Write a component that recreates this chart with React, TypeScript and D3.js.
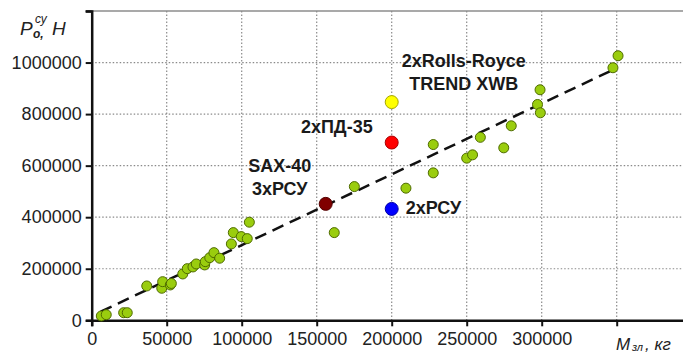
import React, { useEffect, useRef } from 'react';
import * as d3 from 'd3';

// aircraft: take-off mass (kg) vs total take-off thrust (N)
const MASS = [
  6400, 9700, 21300, 23700, 36700, 46700, 47300, 52400, 53100, 60700, 63700, 67500, 69700,
  75300, 75700, 78700, 81500, 85300, 93100, 94400, 99700, 103700, 105100, 161700, 175100,
  209500, 227700, 227700, 250000, 253900, 259100, 274700, 279700, 298900, 297200, 299100,
  347500, 350900,
];
const THRUST = [
  16700, 21800, 29500, 29500, 133200, 124300, 149900, 137100, 142900, 179800, 200400, 207000,
  218600, 214800, 227600, 243100, 262500, 240800, 296300, 340200, 324700, 316900, 380600,
  340200, 518800, 512600, 681900, 572000, 629100, 641900, 709900, 669100, 754600, 894400,
  837300, 805000, 979800, 1026400,
];

const SPECIAL_NAMES = ['SAX-40|3xРСУ', '2xПД-35', '2xRolls-Royce|TREND XWB', '2xРСУ'];
const SPECIAL_MASS = [156000, 200000, 200000, 200000];
const SPECIAL_THRUST = [451700, 689700, 846600, 432200];
const SPECIAL_COLORS = ['#800000', '#ff0000', '#ffff00', '#0000ff'];

const TREND_MASS = [6000, 350000];
const TREND_THRUST = [33400, 978600];

const X_TICKS = [0, 50000, 100000, 150000, 200000, 250000, 300000];
const X_GRID = [50000, 100000, 150000, 200000, 250000, 300000, 350000];
const Y_TICKS = [0, 200000, 400000, 600000, 800000, 1000000];

const W = 683;
const H = 354;

const App = () => {
  const ref = useRef<SVGSVGElement>(null);

  useEffect(() => {
    const svg = d3.select(ref.current);
    svg.selectAll('*').remove();

    const x = d3.scaleLinear().domain([0, 400000]).range([91.7, 691.7]);
    const y = d3.scaleLinear().domain([0, 1200000]).range([320.3, 11]);
    const font = '"Liberation Sans", Arial, sans-serif';

    // grid
    const grid = svg.append('g');
    grid
      .selectAll('.vg')
      .data(X_GRID)
      .enter()
      .append('line')
      .attr('x1', d => x(d))
      .attr('x2', d => x(d))
      .attr('y1', y(1200000))
      .attr('y2', y(0))
      .attr('stroke', '#8a8a8a')
      .attr('stroke-width', 1.2)
      .attr('stroke-dasharray', '1.5,2');
    grid
      .selectAll('.hg')
      .data(Y_TICKS.filter(d => d > 0))
      .enter()
      .append('line')
      .attr('x1', x(0))
      .attr('x2', W)
      .attr('y1', d => y(d))
      .attr('y2', d => y(d))
      .attr('stroke', '#8a8a8a')
      .attr('stroke-width', 1.2)
      .attr('stroke-dasharray', '1.5,2');
    // top frame line
    svg
      .append('line')
      .attr('x1', x(0) - 6)
      .attr('x2', W)
      .attr('y1', y(1200000))
      .attr('y2', y(1200000))
      .attr('stroke', '#8c8c8c')
      .attr('stroke-width', 1.5);

    // axes
    const yAxis = d3
      .axisLeft(y)
      .tickValues([...Y_TICKS, 1200000])
      .tickSize(6)
      .tickFormat(d => (+d <= 1000000 ? String(d) : ''));
    const gy = svg.append('g').attr('transform', `translate(${x(0)},0)`).call(yAxis);
    gy.select('.domain').attr('stroke', '#111').attr('stroke-width', 2.5);
    gy.selectAll('.tick line').attr('stroke', '#111').attr('stroke-width', 2);
    gy.selectAll('.tick text')
      .attr('x', -10)
      .style('font-family', font)
      .style('font-size', '18px')
      .style('fill', '#222');

    const xAxis = d3
      .axisBottom(x)
      .tickValues([...X_TICKS, 350000])
      .tickSize(6)
      .tickFormat(d => (+d <= 300000 ? String(d) : ''));
    const gx = svg.append('g').attr('transform', `translate(0,${y(0)})`).call(xAxis);
    gx.select('.domain').attr('stroke', '#111').attr('stroke-width', 2.5);
    gx.selectAll('.tick line').attr('stroke', '#111').attr('stroke-width', 2);
    gx.selectAll('.tick text')
      .attr('y', 12)
      .style('font-family', font)
      .style('font-size', '18px')
      .style('fill', '#222');

    // trend line
    const trend = TREND_MASS.map((m, i) => [m, TREND_THRUST[i]] as [number, number]);
    svg
      .append('path')
      .datum(trend)
      .attr('d', d3.line().x(d => x(d[0])).y(d => y(d[1])))
      .attr('fill', 'none')
      .attr('stroke', '#111')
      .attr('stroke-width', 2.5)
      .attr('stroke-dasharray', '12,7');

    // aircraft points
    svg
      .selectAll('.pt')
      .data(MASS.map((m, i) => ({ m, t: THRUST[i] })))
      .enter()
      .append('circle')
      .attr('cx', d => x(d.m))
      .attr('cy', d => y(d.t))
      .attr('r', 5)
      .attr('fill', '#9acd0e')
      .attr('stroke', '#4f6b00')
      .attr('stroke-width', 1);

    // highlighted engines
    const special = SPECIAL_NAMES.map((n, i) => ({
      n,
      m: SPECIAL_MASS[i],
      t: SPECIAL_THRUST[i],
      c: SPECIAL_COLORS[i],
    }));
    svg
      .selectAll('.sp')
      .data(special)
      .enter()
      .append('circle')
      .attr('cx', d => x(d.m))
      .attr('cy', d => y(d.t))
      .attr('r', 6.5)
      .attr('fill', d => d.c)
      .attr('stroke', d => d3.color(d.c)!.darker(1.2).toString())
      .attr('stroke-width', 1);

    // labels: [dx, dy of first baseline, anchor]
    const place: Record<string, [number, number, string]> = {
      'SAX-40|3xРСУ': [-46, -32, 'middle'],
      '2xПД-35': [-19, -10, 'end'],
      '2xRolls-Royce|TREND XWB': [72, -35, 'middle'],
      '2xРСУ': [14, 5, 'start'],
    };
    special.forEach(d => {
      const [dx, dy, anchor] = place[d.n];
      d.n.split('|').forEach((line, k) => {
        svg
          .append('text')
          .attr('x', x(d.m) + dx)
          .attr('y', y(d.t) + dy + k * 23)
          .attr('text-anchor', anchor)
          .style('font-family', font)
          .style('font-weight', 'bold')
          .style('font-size', '18px')
          .style('fill', '#1a1a1a')
          .text(line);
      });
    });

    // axis titles
    const ital = (tx: number, ty: number, size: number, s: string) =>
      svg
        .append('text')
        .attr('x', tx)
        .attr('y', ty)
        .style('font-family', font)
        .style('font-style', 'italic')
        .style('font-size', `${size}px`)
        .style('fill', '#222')
        .text(s);
    ital(20, 35, 19, 'P');
    ital(33, 38, 12, 'o,').style('font-weight', 'bold');
    ital(35, 23, 12, 'су');
    ital(52, 35, 19, 'H');

    ital(616, 350, 17, 'M');
    ital(632, 351, 11, 'зл');
    ital(645, 350, 17, ', кг');
  }, []);

  return (
    <svg
      ref={ref}
      width={W}
      height={H}
      style={{ position: 'absolute', left: 0, top: 0, background: '#fff' }}
    />
  );
};

export default App;
